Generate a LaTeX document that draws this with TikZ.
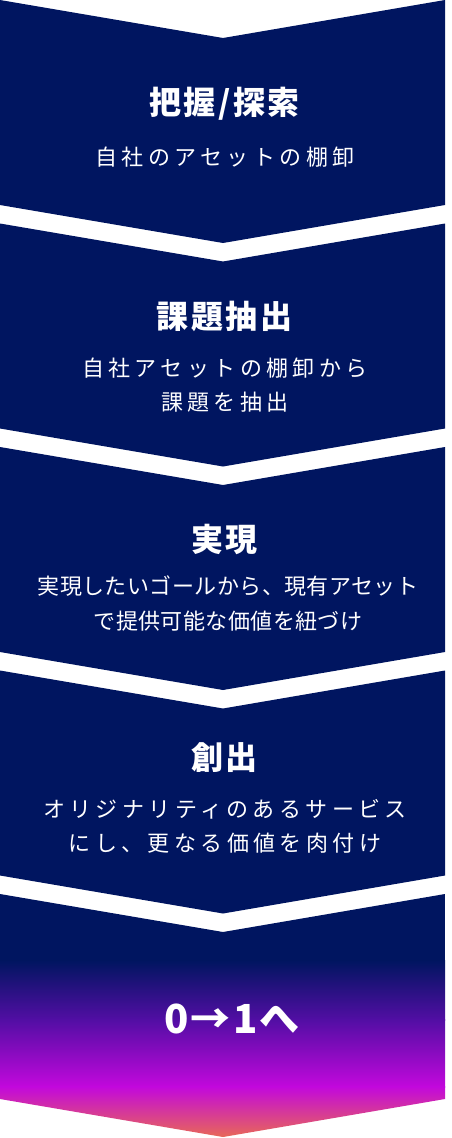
\documentclass[tikz,border=0pt]{standalone}
\usepackage{fontspec}
\setmainfont{Noto Sans CJK JP}
\newfontfamily\ttlfont{Noto Sans CJK JP}[LetterSpace=8]
\newfontfamily\subfont{Noto Sans CJK JP}[LetterSpace=20]
\newfontfamily\subtightfont{Noto Sans CJK JP}[LetterSpace=2]
\newfontfamily\goalfont{Noto Sans CJK JP}[LetterSpace=6]
\usetikzlibrary{positioning}
\definecolor{navyband}{RGB}{0, 21, 96}
\definecolor{gradpurple}{RGB}{82, 14, 164}
\definecolor{gradmagenta}{RGB}{194, 8, 220}
\definecolor{gradsalmon}{RGB}{234, 110, 80}

\begin{document}
\begin{tikzpicture}[x=1pt, y=-1pt,
    band/.style={fill=navyband},
    ttl/.style={text=white, font=\ttlfont\bfseries\fontsize{32}{36}\selectfont},
    sub/.style={text=white, align=center, font=\subfont\fontsize{22}{34}\selectfont},
    subtight/.style={sub, font=\subtightfont\fontsize{22}{35}\selectfont},
    goal/.style={text=white, font=\goalfont\bfseries\fontsize{40}{44}\selectfont}]
    \useasboundingbox (0,0) rectangle (452,1138);
    % chevron bands
    \foreach \t in {0, 223.5, 447, 670.5}
        \fill[band] (0,\t) -- (223,\t+38) -- (445,\t) -- (445,\t+205) -- (223,\t+243) -- (0,\t+205) -- cycle;
    % last band, fading to magenta
    \begin{scope}
        \clip (0,894) -- (223,932) -- (445,894) -- (445,1099) -- (223,1137) -- (0,1099) -- cycle;
        \fill[navyband] (0,890) rectangle (445,961);
        \shade[top color=navyband, bottom color=gradpurple] (0,960.5) rectangle (445,1020);
        \shade[top color=gradpurple, bottom color=gradmagenta] (0,1019.5) rectangle (445,1087);
        \shade[top color=gradmagenta, bottom color=gradsalmon] (0,1086.5) rectangle (445,1140);
    \end{scope}
    % texts
    \node[ttl] (ttl1) at (224.5,104) {把握/探索};
    \node[sub] (sub1) at (225,157) {自社のアセットの棚卸};
    \node[ttl] (ttl2) at (224.5,316) {課題抽出};
    \node[sub] (sub2) at (225,385.5) {自社アセットの棚卸から\\課題を抽出};
    \node[ttl] (ttl3) at (224.5,539) {実現};
    \node[subtight] (sub3) at (228,603.5) {実現したいゴールから、現有アセット\\で提供可能な価値を紐づけ};
    \node[ttl] (ttl4) at (224.5,758) {創出};
    \node[sub] (sub4) at (225,826) {オリジナリティのあるサービス\\にし、更なる価値を肉付け};
    \node[goal] (goal) at (232,1019) {0→1へ};
\end{tikzpicture}
\end{document}
